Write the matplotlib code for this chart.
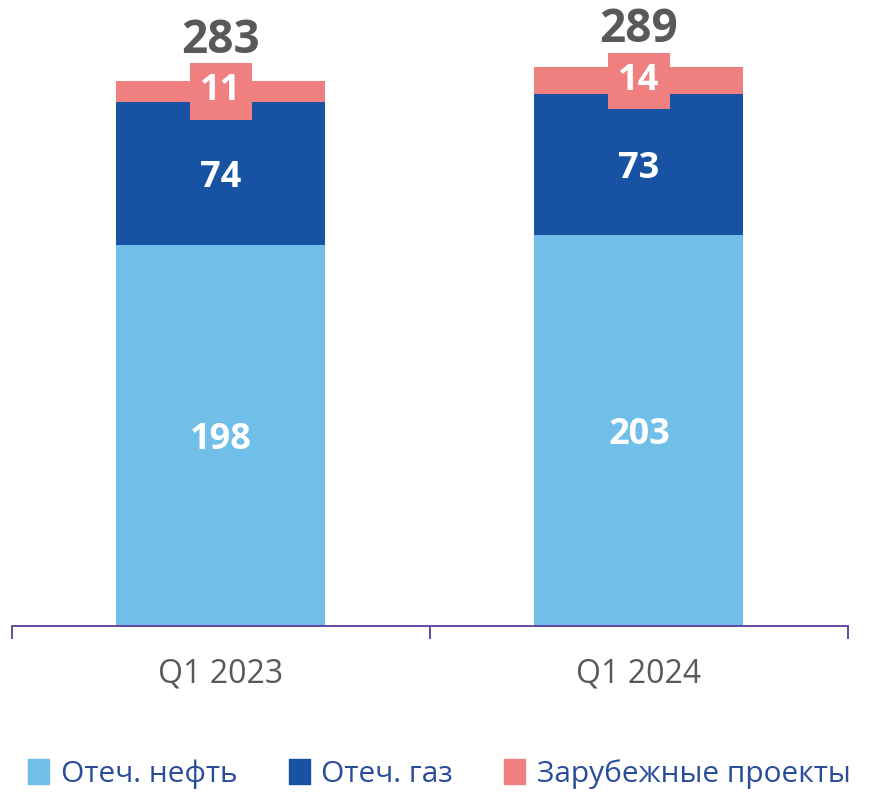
import matplotlib
matplotlib.use("Agg")
import numpy as np
import matplotlib.pyplot as plt
from matplotlib.patches import Patch

plt.rcParams["font.family"] = ["Open Sans", "DejaVu Sans"]

categories = ["Q1 2023", "Q1 2024"]
oil = [198, 203]
gas = [74, 73]
foreign = [11, 14]
totals = [283, 289]
series_names = ["Отеч. нефть", "Отеч. газ", "Зарубежные проекты"]

c_oil = "#71BEE9"
c_gas = "#1853A3"
c_for = "#F08080"

fig = plt.figure(figsize=(8.79, 7.92), dpi=100)
ax = fig.add_axes([12 / 879, 1 - 626 / 792, 836 / 879, 626 / 792])

x = np.arange(len(categories))
w = 0.5
ax.bar(x, oil, w, color=c_oil)
ax.bar(x, gas, w, bottom=oil, color=c_gas)
bot2 = np.array(oil) + np.array(gas)
ax.bar(x, foreign, w, bottom=bot2, color=c_for)

for i in range(len(x)):
    ax.text(x[i], oil[i] / 2, str(oil[i]), ha="center", va="center_baseline",
            color="white", fontsize=26, fontweight="bold")
    ax.text(x[i], oil[i] + gas[i] / 2, str(gas[i]), ha="center", va="center_baseline",
            color="white", fontsize=26, fontweight="bold")
    ax.text(x[i], bot2[i] + foreign[i] / 2, str(foreign[i]), ha="center", va="center",
            color="white", fontsize=26, fontweight="bold",
            bbox=dict(boxstyle="square,pad=0.28", fc=c_for, ec="none"))
    ax.annotate(str(totals[i]), (x[i], totals[i]), xytext=(0, 29), textcoords="offset points",
                ha="center", va="center", color="#595959", fontsize=33, fontweight="bold")

ax.set_xlim(-0.5, 1.5)
ax.set_ylim(0, 325)
for s in ["top", "right", "left"]:
    ax.spines[s].set_visible(False)
ax.spines["bottom"].set_color("#5B3A9B")
ax.spines["bottom"].set_linewidth(1.3)
ax.set_yticks([])
ax.set_xticks([-0.5, 0.5, 1.5])
ax.set_xticklabels([])
ax.set_xticks(x, minor=True)
ax.set_xticklabels(categories, minor=True)
ax.tick_params(axis="x", which="major", length=9, width=1.3, color="#5B3A9B")
ax.tick_params(axis="x", which="minor", length=0, pad=23, labelsize=23, labelcolor="#595959")

handles = [Patch(color=c_oil), Patch(color=c_gas), Patch(color=c_for)]
fig.legend(handles, series_names, loc="center", bbox_to_anchor=(0.5, 1 - 774 / 792),
           ncol=3, frameon=False, fontsize=21.5, labelcolor="#2A4D9B",
           handlelength=0.7, handleheight=0.9, handletextpad=0.4, columnspacing=1.7)

fig.savefig("out.png", dpi=100)
